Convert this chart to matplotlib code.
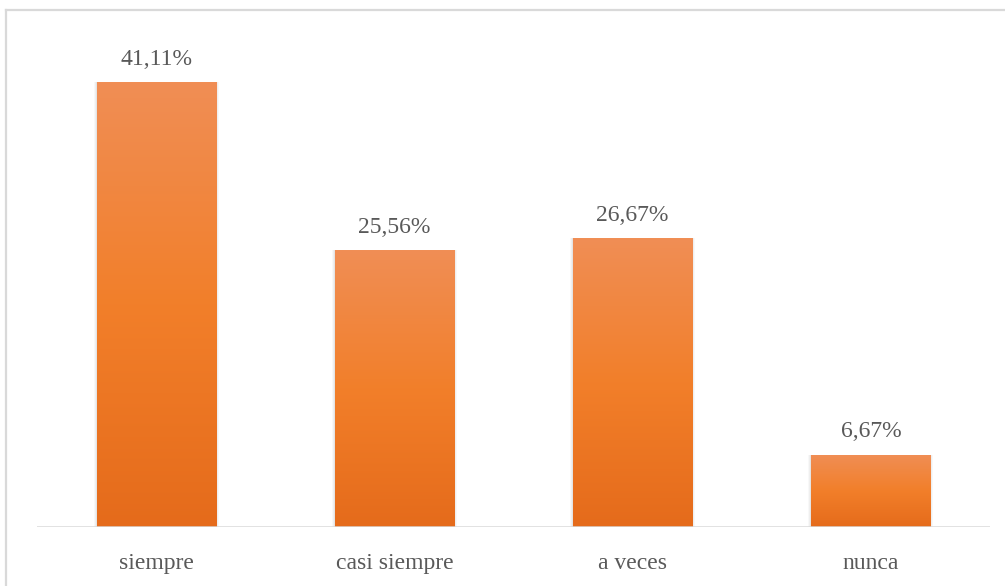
import numpy as np
import matplotlib.pyplot as plt
from matplotlib.lines import Line2D

categories = ["siempre", "casi siempre", "a veces", "nunca"]
values = [41.11, 25.56, 26.67, 6.67]
labels = ["41,11%", "25,56%", "26,67%", "6,67%"]

plt.rcParams['font.family'] = ['Liberation Serif', 'DejaVu Serif']

W, H = 1005, 586
fig = plt.figure(figsize=(W / 100, H / 100), dpi=100)

# axes: x 37..990 px, baseline at y=527 px, top at y=40 px
ax = fig.add_axes([37 / W, (H - 527) / H, (990 - 37) / W, (527 - 40) / H])
ax.set_xlim(-0.5, 3.5)
ax.set_ylim(0, 45.0)
ax.axis("off")

x = np.arange(len(categories))
bw = 0.5

# vertical gradient for the bars
top_c = np.array([0xF0, 0x8E, 0x55]) / 255
mid_c = np.array([0xF2, 0x7F, 0x2A]) / 255
bot_c = np.array([0xE5, 0x6B, 0x1B]) / 255
t = np.linspace(0, 1, 256)[:, None]
grad = np.where(t < 0.5, top_c + (mid_c - top_c) * (t / 0.5),
                mid_c + (bot_c - mid_c) * ((t - 0.5) / 0.5))[:, None, :]

for xi, v in zip(x, values):
    # soft shadow
    for k, a in zip([0.024, 0.016, 0.008], [0.05, 0.07, 0.09]):
        ax.bar(xi, v + 0.3, width=bw + k, bottom=-0.3, color="gray", alpha=a, linewidth=0, zorder=1)
    b = ax.bar(xi, v, width=bw, color="none", linewidth=0, zorder=2)[0]
    im = ax.imshow(grad, extent=[xi - bw / 2, xi + bw / 2, 0, v], aspect="auto", zorder=2)
    im.set_clip_path(b)

for xi, v, lab in zip(x, values, labels):
    ax.annotate(lab, (xi, v), xytext=(0, 16.5), textcoords="offset points", ha="center", va="center",
                fontsize=17, color="#595959")

ax.axhline(0, color="#D9D9D9", linewidth=1.8, zorder=3)

# category labels at y=562 px
for xi, c in zip(x, categories):
    ax.annotate(c, (xi, 0), xytext=(0, -26.5), textcoords="offset points", ha="center", va="center",
                fontsize=17, color="#595959", annotation_clip=False)

# outer chart border (top and left visible)
fig.add_artist(Line2D([6 / W, 1], [(H - 10) / H, (H - 10) / H], transform=fig.transFigure,
                      color="#D9D9D9", linewidth=1.6))
fig.add_artist(Line2D([6 / W, 6 / W], [0, (H - 10) / H], transform=fig.transFigure,
                      color="#D9D9D9", linewidth=1.6))

fig.savefig("out.png", dpi=100)
